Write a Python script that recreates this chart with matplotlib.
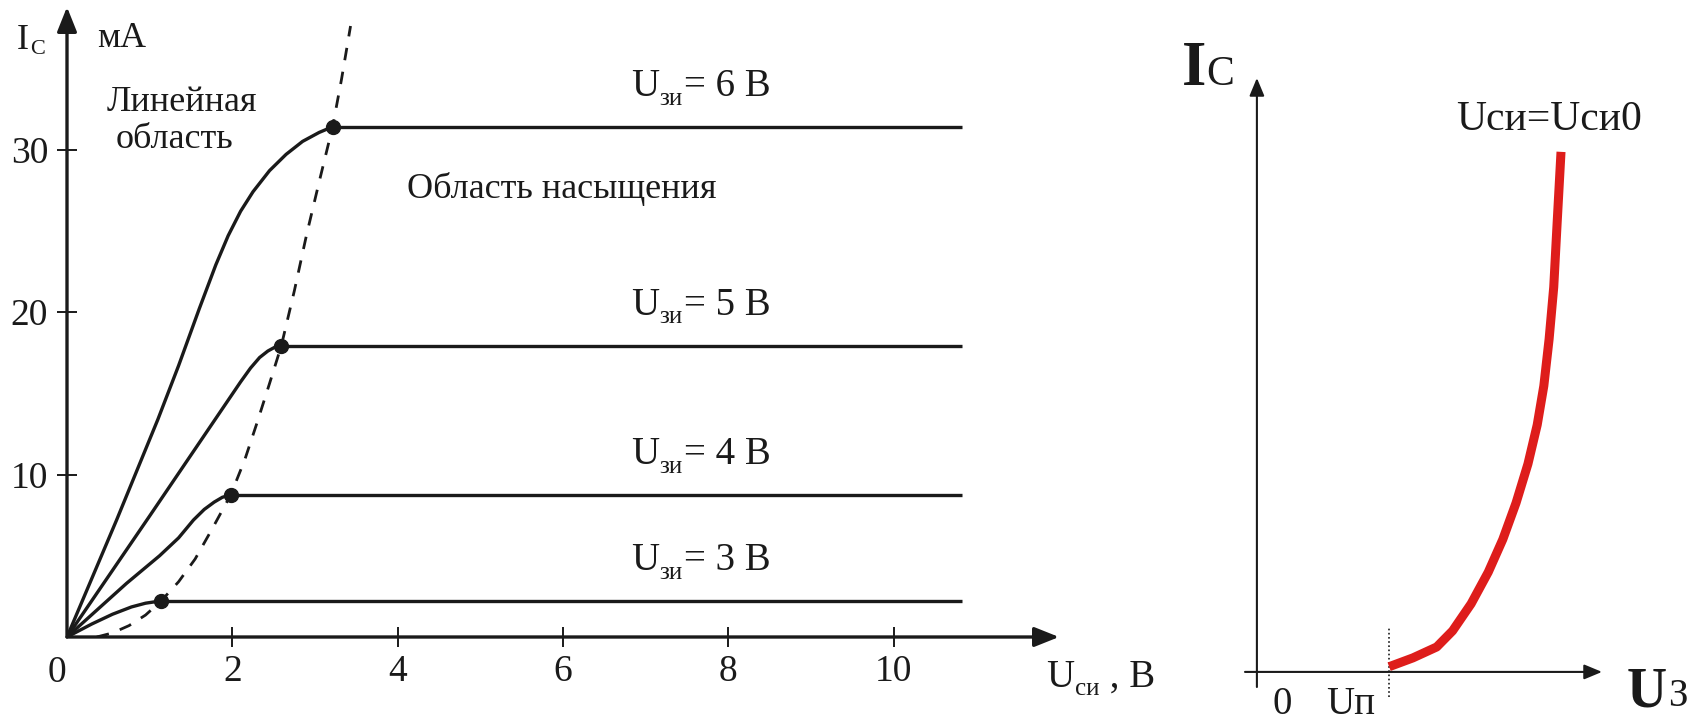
import matplotlib
matplotlib.use("Agg")
import matplotlib.pyplot as plt

plt.rcParams['font.family'] = ['Liberation Serif', 'DejaVu Serif']
INK = '#1a1a1a'
RED = '#de1d1b'

# output characteristics: U_си (V) -> I_с (mA), linear part up to the knee
u_3v = [0, 0.30, 0.55, 0.78, 0.95, 1.135]
i_3v = [0, 0.80, 1.40, 1.85, 2.08, 2.22]
u_4v = [0, 0.72, 1.12, 1.35, 1.53, 1.66, 1.78, 1.88, 1.98]
i_4v = [0, 3.3, 5.0, 6.1, 7.2, 7.85, 8.3, 8.6, 8.74]
u_5v = [0, 1.0, 1.9, 2.1, 2.22, 2.33, 2.43, 2.52, 2.593]
i_5v = [0, 7.45, 14.2, 15.7, 16.55, 17.2, 17.6, 17.85, 17.93]
u_6v = [0, 0.6, 1.1, 1.35, 1.6, 1.8, 1.95, 2.1, 2.25, 2.45, 2.65, 2.85, 3.05, 3.213]
i_6v = [0, 7.2, 13.4, 16.7, 20.2, 22.9, 24.7, 26.2, 27.4, 28.7, 29.7, 30.5, 31.05, 31.4]
gate_volts = ['3', '4', '5', '6']
u_end = 10.83

# boundary between linear and saturation regions
u_bound = [0.36, 0.55, 0.75, 0.95, 1.135, 1.35, 1.55, 1.75, 1.98, 2.15, 2.30,
           2.45, 2.593, 2.75, 2.90, 3.05, 3.213, 3.32, 3.43]
i_bound = [0, 0.25, 0.7, 1.35, 2.2, 3.4, 4.8, 6.6, 8.74, 10.9, 13.2,
           15.6, 17.93, 21.3, 24.8, 28.0, 31.4, 34.3, 37.6]

x_ticks = [2, 4, 6, 8, 10]
y_ticks = [10, 20, 30]

# transfer characteristic (arbitrary units)
u_gate = [1.0, 1.18, 1.36, 1.48, 1.62, 1.75, 1.86, 1.96, 2.05, 2.12, 2.17,
          2.21, 2.245, 2.27, 2.30]
i_drain = [0.1, 0.27, 0.48, 0.79, 1.31, 1.92, 2.55, 3.25, 4.0, 4.75, 5.5,
           6.4, 7.4, 8.6, 10.0]
u_cutoff = 1.0


def sub_text(ax, x, y, main, sub, tail='', size=28, sub_size=18, drop=6,
             rise=0, weight='normal'):
    kw = dict(textcoords='offset points', va='baseline', ha='left', color=INK,
              annotation_clip=False)
    t = ax.annotate(main, xy=(x, y), xytext=(0, rise), fontsize=size,
                    fontweight=weight, **kw)
    s = ax.annotate(sub, xy=(1, y), xycoords=(t, 'data'), xytext=(0.5, rise - drop),
                    fontsize=sub_size, **kw)
    if tail:
        ax.annotate(tail, xy=(1, y), xycoords=(s, 'data'), xytext=(0.5, rise),
                    fontsize=size, **kw)


fig = plt.figure(figsize=(17.04, 7.22), dpi=100)

# ---- left: output characteristics
ax = fig.add_axes([67 / 1704, 85 / 722, 992 / 1704, 630 / 722])
ax.set_xlim(0, 12)
ax.set_ylim(0, 38.77)
ax.patch.set_alpha(0)
for sp in ax.spines.values():
    sp.set_visible(False)

arrow = dict(arrowstyle='-|>,head_length=0.75,head_width=0.3', lw=2.4, color=INK,
             shrinkA=0, shrinkB=0, mutation_scale=20)
ax.annotate('', xy=(1, 0), xytext=(0, 0), xycoords='axes fraction', arrowprops=arrow)
ax.annotate('', xy=(0, 1), xytext=(0, 0), xycoords='axes fraction', arrowprops=arrow)

ax.set_xticks(x_ticks)
ax.set_yticks(y_ticks)
ax.tick_params(direction='inout', length=15, width=1.4, color=INK,
               labelsize=27, labelcolor=INK)
ax.tick_params(axis='x', pad=5)
ax.tick_params(axis='y', pad=6)
ax.annotate('0', xy=(0, 0), xytext=(-7, -13), textcoords='offset points',
            ha='center', va='top', fontsize=27, color=INK)

curves = [(u_3v, i_3v), (u_4v, i_4v), (u_5v, i_5v), (u_6v, i_6v)]
for (u, i), v in zip(curves, gate_volts):
    ax.plot(u, i, color=INK, lw=2.4, solid_capstyle='round', solid_joinstyle='round')
    ax.plot([u[-1], u_end], [i[-1], i[-1]], color=INK, lw=2.4, solid_capstyle='butt')
    ax.plot(u[-1], i[-1], 'o', color=INK, ms=10)
    sub_text(ax, 6.82, i[-1], 'U', 'зи', '= %s В' % v, rise=22)

ax.plot(u_bound, i_bound, color=INK, lw=2.0, dashes=(4.5, 4.2))

sub_text(ax, -0.604, 36.2, 'I', 'С', size=26, sub_size=16, drop=4)
ax.text(0.362, 36.3, 'мА', fontsize=26, va='baseline', color=INK)
ax.text(1.39, 32.4, 'Линейная', fontsize=26, ha='center', va='baseline', color=INK)
ax.text(1.30, 30.1, 'область', fontsize=26, ha='center', va='baseline', color=INK)
ax.text(4.11, 27.0, 'Область насыщения', fontsize=26, va='baseline', color=INK)
sub_text(ax, 11.84, -3.08, 'U', 'си', ' , В', size=28, sub_size=18, drop=6)

# ---- right: transfer characteristic
ax2 = fig.add_axes([1245 / 1704, 35 / 722, 357 / 1704, 609 / 722])
ax2.set_xlim(-0.09, 2.61)
ax2.set_ylim(-0.29, 11.42)
ax2.axis('off')

thin = dict(arrowstyle='-|>,head_length=0.6,head_width=0.25', lw=1.5, color=INK,
            shrinkA=0, shrinkB=0, mutation_scale=18)
ax2.annotate('', xy=(1, 0), xytext=(0, 0), xycoords=ax2.get_yaxis_transform(),
             arrowprops=thin)
ax2.annotate('', xy=(0, 1), xytext=(0, 0), xycoords=ax2.get_xaxis_transform(),
             arrowprops=thin)
ax2.plot([u_cutoff, u_cutoff], [-0.48, 0.85], color=INK, lw=1.2, ls=(0, (1, 1.5)),
         clip_on=False)
ax2.plot(u_gate, i_drain, color=RED, lw=6.5, solid_capstyle='butt',
         solid_joinstyle='round')

sub_text(ax2, -0.57, 11.29, 'I', 'С', size=45, sub_size=30, drop=0, weight='bold')
ax2.text(1.51, 10.42, 'Uси=Uси0', fontsize=30, va='baseline', color=INK)
ax2.text(0.19, -0.80, '0', fontsize=28, ha='center', va='baseline', color=INK)
ax2.text(0.52, -0.80, 'Uп', fontsize=28, va='baseline', color=INK)
sub_text(ax2, 2.80, -0.66, 'U', 'З', size=40, sub_size=28, drop=0, weight='bold')

fig.savefig('out.png', dpi=100)
